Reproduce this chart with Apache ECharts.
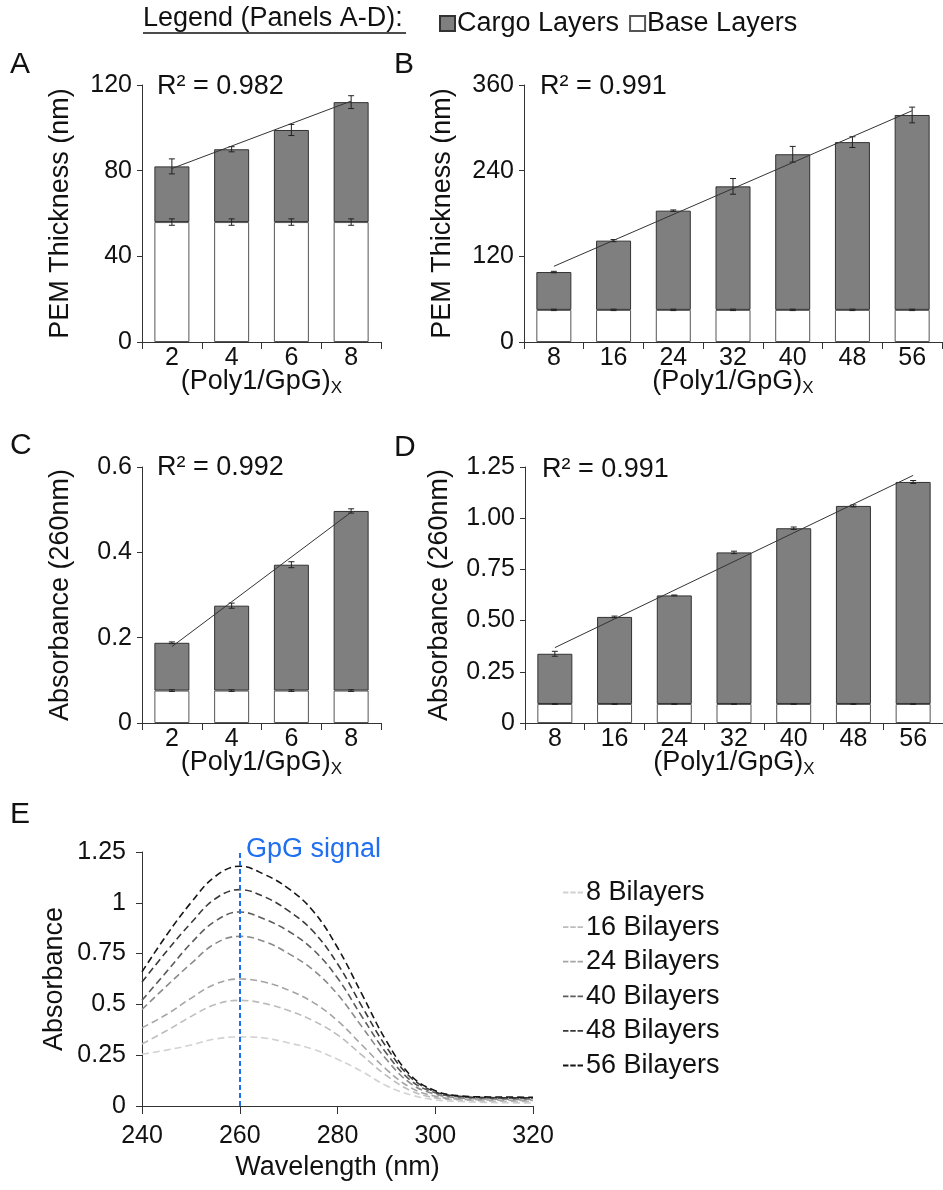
<!DOCTYPE html>
<html>
<head>
<meta charset="utf-8">
<title>PEM panels</title>
<script src="https://cdn.jsdelivr.net/npm/echarts@6/dist/echarts.min.js"></script>
</head>
<body style="margin:0;background:#fff">
<div id="main" style="width:943px;height:1190px"></div>
<script>
// ---- panel A / C categories
var catsSmall = ['2', '4', '6', '8'];
// ---- panel B / D categories
var catsLarge = ['8', '16', '24', '32', '40', '48', '56'];

// A: PEM thickness (nm)
var totalA = [82, 90, 99, 112];
var baseA = [56, 56, 56, 56];
var errTotalA = [3.5, 1.2, 2.6, 3];
var errBaseA = [1.5, 1.5, 1.5, 1.5];
var trendA = [81, 112.5];

// B: PEM thickness (nm)
var totalB = [98, 142, 184, 218, 263, 280, 318];
var baseB = [45, 45, 45, 45, 45, 45, 45];
var errTotalB = [1, 1.5, 1, 11, 11, 7.5, 11];
var errBaseB = [1, 1, 1, 1, 1, 1, 1];
var trendB = [106, 324];

// C: absorbance 260nm
var totalC = [0.188, 0.275, 0.371, 0.497];
var baseC = [0.076, 0.076, 0.076, 0.076];
var errTotalC = [0.002, 0.006, 0.007, 0.005];
var errBaseC = [0.002, 0.002, 0.002, 0.002];
var trendC = [0.179, 0.494];

// D: absorbance 260nm
var totalD = [0.338, 0.518, 0.623, 0.833, 0.951, 1.060, 1.177];
var baseD = [0.093, 0.093, 0.093, 0.093, 0.093, 0.093, 0.093];
var errTotalD = [0.012, 0.004, 0.002, 0.006, 0.006, 0.005, 0.007];
var errBaseD = [0.002, 0.002, 0.002, 0.002, 0.002, 0.002, 0.002];
var trendD = [0.368, 1.209];

// E: spectra
var wavelengths = [240, 245, 250, 255, 260, 265, 270, 275, 280, 285, 290, 295, 300, 305, 310, 315, 320];
var spec8  = [0.255, 0.275, 0.30, 0.33, 0.34, 0.335, 0.31, 0.28, 0.23, 0.17, 0.10, 0.055, 0.03, 0.022, 0.018, 0.016, 0.015];
var spec16 = [0.305, 0.37, 0.44, 0.50, 0.52, 0.505, 0.47, 0.42, 0.35, 0.25, 0.15, 0.075, 0.04, 0.03, 0.025, 0.023, 0.022];
var spec24 = [0.385, 0.45, 0.53, 0.60, 0.625, 0.61, 0.57, 0.51, 0.42, 0.30, 0.18, 0.09, 0.048, 0.034, 0.03, 0.028, 0.027];
var spec32 = [0.475, 0.59, 0.70, 0.80, 0.835, 0.81, 0.75, 0.67, 0.55, 0.39, 0.23, 0.11, 0.058, 0.04, 0.035, 0.033, 0.032];
var spec40 = [0.52, 0.66, 0.80, 0.91, 0.955, 0.92, 0.86, 0.77, 0.63, 0.44, 0.26, 0.125, 0.065, 0.045, 0.04, 0.038, 0.037];
var spec48 = [0.61, 0.76, 0.90, 1.02, 1.065, 1.03, 0.96, 0.86, 0.70, 0.49, 0.29, 0.14, 0.07, 0.048, 0.042, 0.04, 0.04];
var spec56 = [0.66, 0.84, 1.00, 1.13, 1.18, 1.14, 1.07, 0.96, 0.78, 0.55, 0.32, 0.15, 0.075, 0.05, 0.045, 0.044, 0.043];
var specNames = ['8 Bilayers', '16 Bilayers', '24 Bilayers', '32 Bilayers', '40 Bilayers', '48 Bilayers', '56 Bilayers'];
var specColors = ['#d2d2d2', '#bcbcbc', '#a4a4a4', '#8a8a8a', '#5c5c5c', '#3a3a3a', '#151515'];
var specData = [spec8, spec16, spec24, spec32, spec40, spec48, spec56];

var FONT = 'Liberation Sans';
var chart = echarts.init(document.getElementById('main'));

function errRender(params, api) {
  var lo = api.coord([api.value(0), api.value(1)]);
  var hi = api.coord([api.value(0), api.value(2)]);
  var c = 3;
  var st = { stroke: '#222', lineWidth: 1 };
  return {
    type: 'group',
    children: [
      { type: 'line', shape: { x1: lo[0], y1: lo[1], x2: hi[0], y2: hi[1] }, style: st },
      { type: 'line', shape: { x1: lo[0] - c, y1: lo[1], x2: lo[0] + c, y2: lo[1] }, style: st },
      { type: 'line', shape: { x1: hi[0] - c, y1: hi[1], x2: hi[0] + c, y2: hi[1] }, style: st }
    ]
  };
}

var grids = [
  { left: 142, top: 85, width: 239, height: 257 },
  { left: 524, top: 85, width: 418, height: 257 },
  { left: 142, top: 467, width: 239, height: 256 },
  { left: 525, top: 467, width: 418, height: 256 },
  { left: 142, top: 852, width: 391, height: 254 }
];

var axisLineStyle = { lineStyle: { color: '#333', width: 1 } };
var labelStyle = { fontFamily: FONT, fontSize: 25, color: '#111' };
var nameStyle = { fontFamily: FONT, fontSize: 27, color: '#111' };

var xAxes = [], yAxes = [], series = [];

var xName = '(Poly1/GpG){sub|X}';
var xNameStyle = {
  fontFamily: FONT, fontSize: 27, color: '#111',
  rich: { sub: { fontFamily: FONT, fontSize: 17, color: '#111', padding: [14, 0, 0, 0] } }
};

function addBarPanel(gi, cats, total, base, errTot, errBase, trend, yMax, yInt, yName, yGap, yFmt) {
  xAxes.push({
    type: 'category', gridIndex: gi, data: cats,
    axisLine: axisLineStyle,
    axisTick: { show: true, length: 7, lineStyle: { color: '#333' } },
    axisLabel: Object.assign({ margin: 4 }, labelStyle),
    name: xName, nameLocation: 'middle', nameGap: 24, nameMoveOverlap: false,
    nameTextStyle: xNameStyle
  });
  yAxes.push({
    type: 'value', gridIndex: gi, min: 0, max: yMax, interval: yInt,
    splitLine: { show: false },
    axisLine: Object.assign({ show: true }, axisLineStyle),
    axisTick: { show: true, length: 5, lineStyle: { color: '#333' } },
    axisLabel: Object.assign({ margin: 10, formatter: yFmt }, labelStyle),
    name: yName, nameLocation: 'middle', nameGap: yGap, nameMoveOverlap: false,
    nameTextStyle: nameStyle
  });
  var cargo = total.map(function (t, i) { return +(t - base[i]).toFixed(4); });
  series.push({
    name: 'Base Layers', type: 'bar', stack: 's' + gi, xAxisIndex: gi, yAxisIndex: gi,
    data: base, barWidth: 35,
    itemStyle: { color: '#ffffff', borderColor: '#555', borderWidth: 1 }
  });
  series.push({
    name: 'Cargo Layers', type: 'bar', stack: 's' + gi, xAxisIndex: gi, yAxisIndex: gi,
    data: cargo, barWidth: 35,
    itemStyle: { color: '#7f7f7f', borderColor: '#333', borderWidth: 1 }
  });
  series.push({
    type: 'custom', xAxisIndex: gi, yAxisIndex: gi, z: 5, renderItem: errRender,
    encode: { x: 0, y: [1, 2] },
    data: total.map(function (t, i) { return [i, t - errTot[i], t + errTot[i]]; })
      .concat(base.map(function (b, i) { return [i, b - errBase[i], b + errBase[i]]; }))
  });
  var tl = cats.map(function () { return null; });
  tl[0] = trend[0];
  tl[tl.length - 1] = trend[1];
  series.push({
    type: 'line', xAxisIndex: gi, yAxisIndex: gi, data: tl, connectNulls: true,
    symbol: 'none', z: 6, lineStyle: { color: '#333', width: 1 }, silent: true
  });
}

addBarPanel(0, catsSmall, totalA, baseA, errTotalA, errBaseA, trendA, 120, 40, 'PEM Thickness (nm)', 68);
addBarPanel(1, catsLarge, totalB, baseB, errTotalB, errBaseB, trendB, 360, 120, 'PEM Thickness (nm)', 68);
addBarPanel(2, catsSmall, totalC, baseC, errTotalC, errBaseC, trendC, 0.6, 0.2, 'Absorbance (260nm)', 68);
addBarPanel(3, catsLarge, totalD, baseD, errTotalD, errBaseD, trendD, 1.25, 0.25, 'Absorbance (260nm)', 72,
  function (v) { return v === 0 ? '0' : v.toFixed(2); });

// panel E
xAxes.push({
  type: 'value', gridIndex: 4, min: 240, max: 320, interval: 20,
  splitLine: { show: false },
  axisLine: axisLineStyle,
  axisTick: { show: true, length: 8, lineStyle: { color: '#333' } },
  axisLabel: Object.assign({ margin: 18 }, labelStyle),
  name: 'Wavelength (nm)', nameLocation: 'middle', nameGap: 48, nameMoveOverlap: false,
  nameTextStyle: nameStyle
});
yAxes.push({
  type: 'value', gridIndex: 4, min: 0, max: 1.25, interval: 0.25,
  splitLine: { show: false },
  axisLine: Object.assign({ show: true }, axisLineStyle),
  axisTick: { show: true, length: 6, lineStyle: { color: '#333' } },
  axisLabel: Object.assign({ margin: 16 }, labelStyle),
  name: 'Absorbance', nameLocation: 'middle', nameGap: 74, nameMoveOverlap: false,
  nameTextStyle: nameStyle
});
specData.forEach(function (arr, k) {
  var s = {
    name: specNames[k], type: 'line', xAxisIndex: 4, yAxisIndex: 4,
    data: wavelengths.map(function (w, i) { return [w, arr[i]]; }),
    smooth: 0.4, symbol: 'none', color: specColors[k],
    lineStyle: { color: specColors[k], width: 1.6, type: [7, 4] }
  };
  if (k === 0) {
    s.markLine = {
      silent: true, symbol: 'none', label: { show: false },
      lineStyle: { color: '#1f6ff0', width: 2, type: [5, 3] },
      data: [{ xAxis: 260 }]
    };
  }
  series.push(s);
});

var option = {
  animation: false,
  grid: grids.map(function (g) { return Object.assign({ containLabel: false, outerBoundsMode: 'none' }, g); }),
  xAxis: xAxes,
  yAxis: yAxes,
  legend: [
    {
      data: ['Cargo Layers', 'Base Layers'], left: 434, top: 5, icon: 'rect',
      itemWidth: 15, itemHeight: 15, itemGap: 10, selectedMode: false,
      textStyle: { fontFamily: FONT, fontSize: 27, color: '#111', padding: [0, 0, 0, -3] }
    },
    {
      data: specNames.filter(function (n) { return n !== '32 Bilayers'; }),
      orient: 'vertical', left: 558, top: 874,
      icon: 'path://M0,0H6V2H0Z M8,0H14V2H8Z M16,0H22V2H16Z',
      itemWidth: 20, itemHeight: 2, itemGap: 7.6,
      selectedMode: false,
      textStyle: { fontFamily: FONT, fontSize: 27, color: '#111', padding: [0, 0, 0, -2] }
    }
  ],
  graphic: [
    { type: 'text', left: 143, top: 5, style: { text: 'Legend (Panels A-D):', font: '27px "Liberation Sans"', fill: '#111' } },
    { type: 'line', shape: { x1: 143, y1: 33, x2: 406, y2: 33 }, style: { stroke: '#111', lineWidth: 1.5 } },
    { type: 'text', left: 10, top: 50, style: { text: 'A', font: '30px "Liberation Sans"', fill: '#111' } },
    { type: 'text', left: 394, top: 50, style: { text: 'B', font: '30px "Liberation Sans"', fill: '#111' } },
    { type: 'text', left: 10, top: 431, style: { text: 'C', font: '30px "Liberation Sans"', fill: '#111' } },
    { type: 'text', left: 394, top: 433, style: { text: 'D', font: '30px "Liberation Sans"', fill: '#111' } },
    { type: 'text', left: 10, top: 800, style: { text: 'E', font: '30px "Liberation Sans"', fill: '#111' } },
    { type: 'text', left: 157, top: 73, style: { text: 'R\u00b2 = 0.982', font: '27px "Liberation Sans"', fill: '#111' } },
    { type: 'text', left: 540, top: 73, style: { text: 'R\u00b2 = 0.991', font: '27px "Liberation Sans"', fill: '#111' } },
    { type: 'text', left: 157, top: 454, style: { text: 'R\u00b2 = 0.992', font: '27px "Liberation Sans"', fill: '#111' } },
    { type: 'text', left: 542, top: 456, style: { text: 'R\u00b2 = 0.991', font: '27px "Liberation Sans"', fill: '#111' } },
    { type: 'text', left: 246, top: 836, style: { text: 'GpG signal', font: '27px "Liberation Sans"', fill: '#1f6ff0' } }
  ],
  series: series
};
chart.setOption(option);
</script>
</body>
</html>
